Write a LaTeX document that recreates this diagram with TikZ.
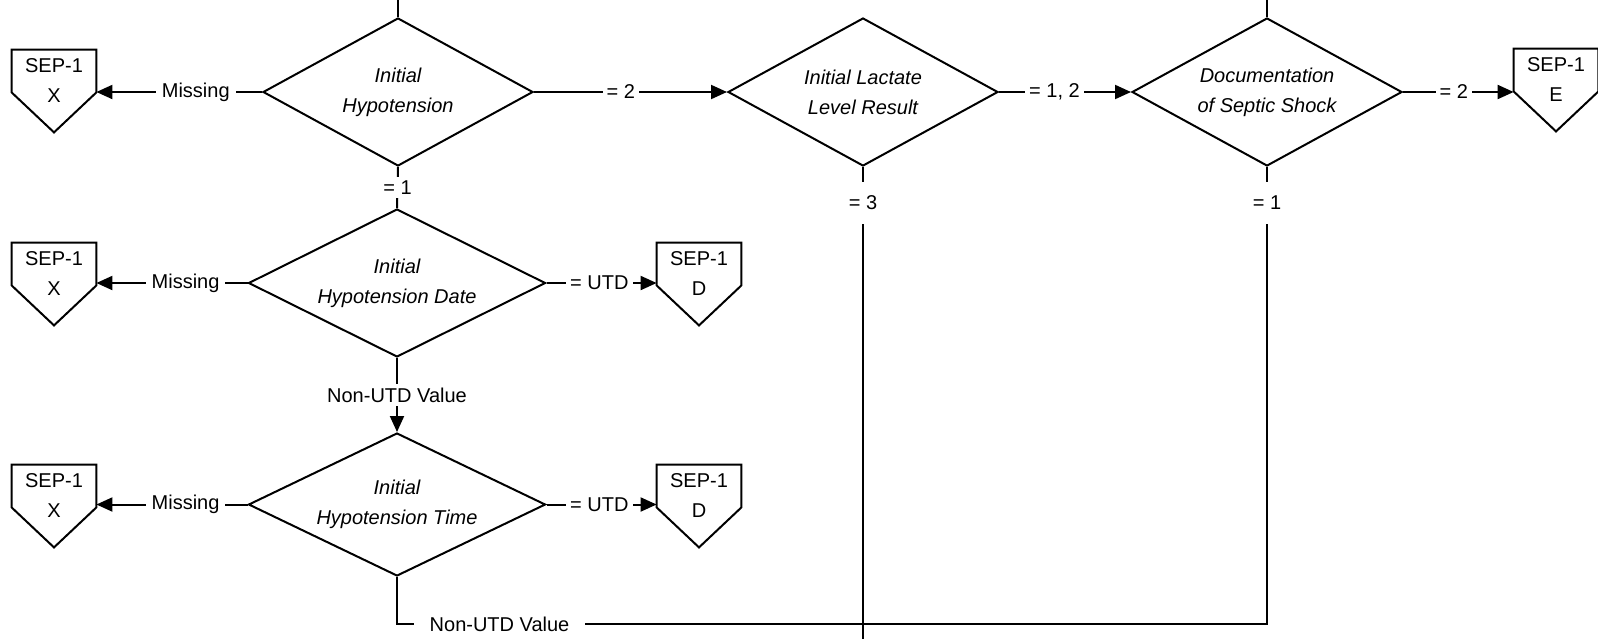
\documentclass[tikz,border=0pt]{standalone}
\usepackage{fontspec}
\setmainfont{Liberation Sans}
\usetikzlibrary{shapes.geometric,arrows.meta}
\newcommand\sepbox[3]{%
  \node[offpage] (#1) at (#2) {#3};
  \draw[conn] (#1.north west) -- (#1.north east) -- ([yshift=10pt]#1.south east)
     -- ([yshift=-10pt]#1.south) -- ([yshift=10pt]#1.south west) -- cycle;}
\begin{document}
\begin{tikzpicture}[x=0.5pt,y=-0.5pt,
  every node/.style={font=\fontsize{10}{15}\selectfont},
  conn/.style={line width=1pt, line join=miter},
  arr/.style={conn, -{Triangle[length=8pt,width=7pt]}},
  dec/.style={draw, line width=1pt, shape=diamond, shape aspect=2, inner sep=0pt,
    minimum width=135pt, minimum height=74pt, align=center,
    font=\fontsize{10}{15}\selectfont\itshape},
  decw/.style={dec, minimum width=148.5pt},
  offpage/.style={inner sep=0pt, minimum width=42pt, minimum height=31pt, align=center},
  lbl/.style={fill=white, inner xsep=2pt, inner ysep=2pt}
]
\useasboundingbox (0,0) rectangle (1598,638);
% decisions
\node[dec] (d1) at (398,92) {Initial\\Hypotension};
\node[dec] (d2) at (863,92) {Initial Lactate\\Level Result};
\node[dec] (d3) at (1267,92) {Documentation\\of Septic Shock};
\node[decw] (d4) at (397,283) {Initial\\Hypotension Date};
\node[decw, minimum height=71.5pt] (d5) at (397,504.5) {Initial\\Hypotension Time};
% off-page connectors
\sepbox{x1}{54,81}{SEP-1\\X}
\sepbox{e1}{1556,80}{SEP-1\\E}
\sepbox{x2}{54,274}{SEP-1\\X}
\sepbox{dd2}{699,274}{SEP-1\\D}
\sepbox{x3}{54,496}{SEP-1\\X}
\sepbox{dd3}{699,496}{SEP-1\\D}
% coordinates
\coordinate (in1) at (398,0);
\coordinate (in3) at (1267,0);
\coordinate (j) at (863,624);
\coordinate (out) at (863,640);
% connectors
\draw[conn] (in1) -- (d1.north);
\draw[conn] (in3) -- (d3.north);
\draw[arr] (d1.west) -- node[lbl,pos=0.40,inner xsep=3pt]{Missing} (d1.west -| x1.east);
\draw[arr] (d1.east) -- node[lbl,pos=0.45]{= 2} (d2.west);
\draw[arr] (d2.east) -- node[lbl,pos=0.42]{= 1, 2} (d3.west);
\draw[arr] (d3.east) -- node[lbl,pos=0.46]{= 2} (d3.east -| e1.west);
\draw[conn] (d1.south) -- node[lbl]{= 1} (d4.north);
\draw[arr] (d4.west) -- node[lbl,pos=0.41,inner xsep=3pt]{Missing} (d4.west -| x2.east);
\draw[arr] (d4.east) -- node[lbl,pos=0.48]{= UTD} (d4.east -| dd2.west);
\draw[arr] (d4.south) -- node[lbl]{Non-UTD Value} (d5.north);
\draw[arr] (d5.west) -- node[lbl,pos=0.41,inner xsep=3pt]{Missing} (d5.west -| x3.east);
\draw[arr] (d5.east) -- node[lbl,pos=0.48]{= UTD} (d5.east -| dd3.west);
\draw[conn] (d2.south) -- node[lbl,pos=0.076,inner ysep=7pt]{= 3} (out);
\draw[conn] (d3.south) |- node[lbl,pos=0.039,inner ysep=7pt]{= 1} (j);
\draw[conn] (d5.south) |- node[lbl,pos=0.61,inner xsep=8pt]{Non-UTD Value} (j);
\end{tikzpicture}
\end{document}
